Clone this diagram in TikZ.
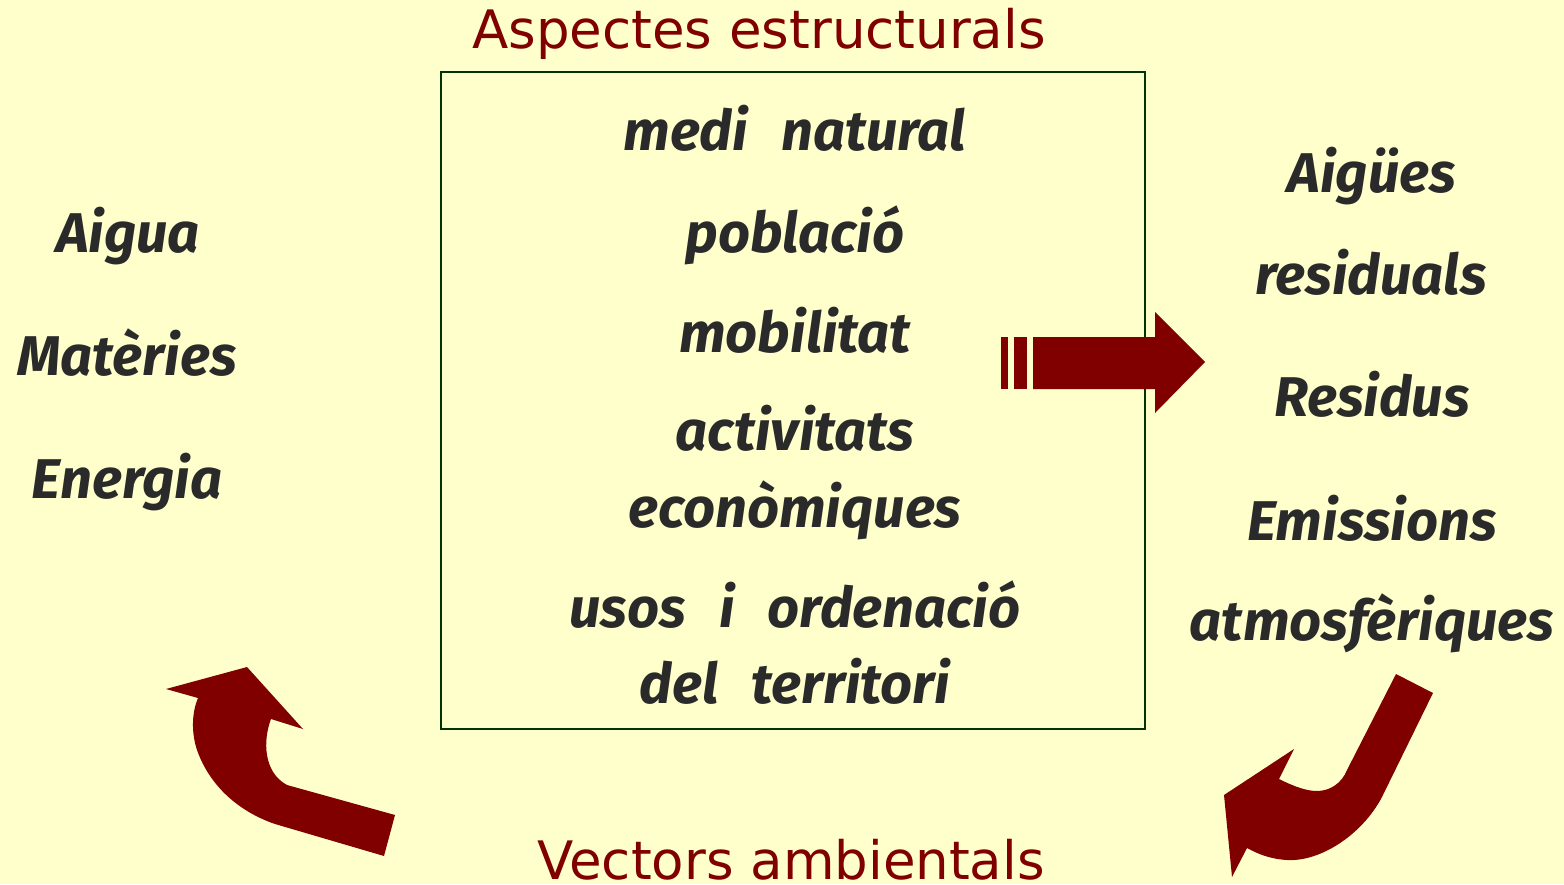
\documentclass[tikz,border=0pt]{standalone}
\usepackage{fontspec}
\setmainfont{DejaVu Sans}
\newfontfamily\handfont{Fira Sans}[WordSpace=2.6]
\usetikzlibrary{positioning}
\definecolor{paper}{HTML}{FFFFCC}
\definecolor{wine}{HTML}{800000}
\definecolor{ink}{HTML}{2A2A2A}
\definecolor{frame}{HTML}{003300}
\tikzset{
  word/.style={anchor=base, inner sep=0pt, text=ink,
    font=\handfont\bfseries\itshape\fontsize{56}{62}\selectfont},
  heading/.style={anchor=base, inner sep=0pt, text=wine,
    font=\fontsize{53}{60}\selectfont},
  fat/.style={fill=wine, draw=none}
}
\begin{document}
\begin{tikzpicture}[x=1pt,y=-1pt]
    \fill[paper] (0,0) rectangle (1564,884);
    \useasboundingbox (0,0) rectangle (1564,884);
    % box of structural aspects
    \node (box) [draw=frame, line width=1.5pt, minimum width=704pt, minimum height=657pt] at (793,400.5) {};
    \node (title) [heading] at (759,48) {Aspectes estructurals};
    \node (vect) [heading] at (791,879) {Vectors ambientals};
    \node (medi) [word] at (795,150) {medi natural};
    \node (pobl) [word] at (795,252) {població};
    \node (mobi) [word] at (795,352) {mobilitat};
    \node (activ) [word] at (795,450) {activitats};
    \node (econ) [word] at (795,527) {econòmiques};
    \node (usos) [word] at (795,627) {usos i ordenació};
    \node (terr) [word] at (795,703) {del territori};
    % inputs
    \node (aigua) [word] at (128,252) {Aigua};
    \node (mater) [word] at (127,375) {Matèries};
    \node (energ) [word] at (127,498) {Energia};
    % outputs
    \node (aigues) [word] at (1372,192) {Aigües};
    \node (resid) [word] at (1371,294) {residuals};
    \node (residus) [word] at (1372,416) {Residus};
    \node (emiss) [word] at (1372,540) {Emissions};
    \node (atmos) [word] at (1372,640) {atmosfèriques};
    % straight arrow
    \fill[fat] (1001,337) rectangle (1008,389);
    \fill[fat] (1014,337) rectangle (1027,389);
    \fill[fat] (1033,337) -- (1155,337) -- (1155,312) -- (1205,362)
      -- (1155,413) -- (1155,389) -- (1033,389) -- cycle;
    % curved arrow, right
    \fill[fat] (1396,674) -- (1433,693) -- (1382,797)
      .. controls (1362,835) and (1320,862) .. (1287,860)
      .. controls (1270,859) and (1258,854) .. (1247,848)
      -- (1232,877) -- (1224,795) -- (1294,749) -- (1279,779)
      .. controls (1295,787) and (1307,791) .. (1317,791)
      .. controls (1330,791) and (1342,783) .. (1347,770) -- cycle;
    % curved arrow, left
    \fill[fat] (395,815) -- (384,856) -- (275,824)
      .. controls (240,812) and (210,787) .. (197,750)
      .. controls (191,732) and (192,712) .. (198,698)
      -- (166,689) -- (247,667) -- (303,729) -- (271,719)
      .. controls (263,740) and (263,772) .. (287,785) -- cycle;
\end{tikzpicture}
\end{document}
